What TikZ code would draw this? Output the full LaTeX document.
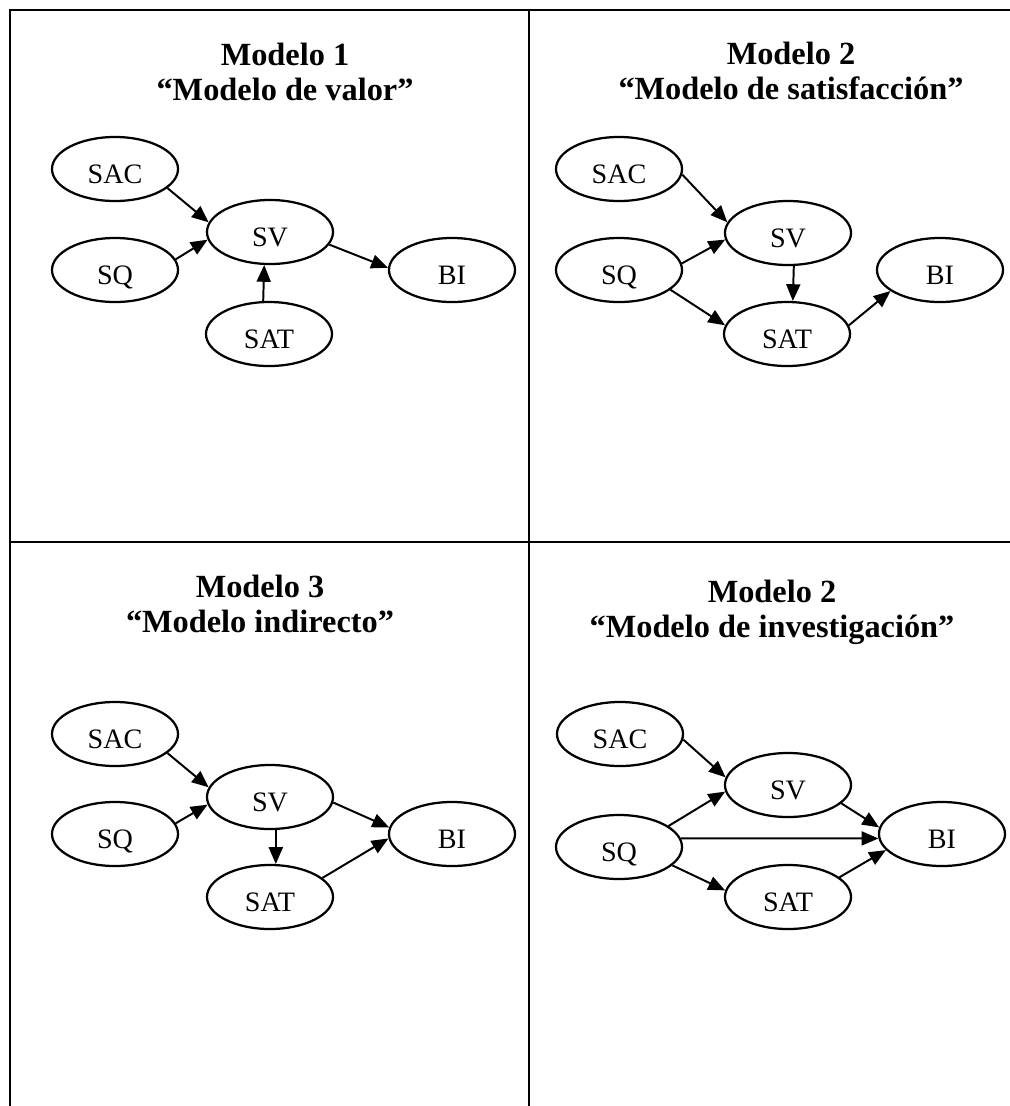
\documentclass[tikz,border=0pt]{standalone}
\usepackage{fontspec}
\setmainfont{Liberation Serif}
\usepackage{tikz}
\usetikzlibrary{arrows.meta,shapes.geometric}
\tikzset{
  var/.style={draw, ellipse, line width=1.6pt, minimum width=3.15cm, minimum height=1.6cm, inner sep=0pt, font=\fontsize{20}{24}\selectfont, text height=21.8pt, text depth=1.5pt},
  head/.style={anchor=base, inner sep=0pt, font=\bfseries\fontsize{23}{25}\selectfont},
  arrow/.style={-{Triangle[length=4.2mm, width=3.5mm]}, line width=1.4pt},
  frame/.style={line width=1.8pt}
}

\begin{document}
\begin{tikzpicture}[x=0.025cm,y=-0.025cm]
  \useasboundingbox (0,0) rectangle (1010,1106);
  \draw[frame] (10,1106) -- (10,10) -- (1010,10);
  \draw[frame] (529,10) -- (529,1106);
  \draw[frame] (10,542) -- (1010,542);

  \node[head] (ttl1) at (285,65) {Modelo 1};
  \node[head] (sub1) at (285,100) {“Modelo de valor”};
  \node[var] (sac1) at (115,169) {SAC};
  \node[var] (sq1) at (115,270) {SQ};
  \node[var] (sv1) at (270,232) {SV};
  \node[var] (sat1) at (269,334) {SAT};
  \node[var] (bi1) at (452,270) {BI};
  \draw[arrow] (sac1.340) -- (sv1.171);
  \draw[arrow] (sq1.10) -- (sv1.187);
  \draw[arrow] (sat1.100) -- (sv1.260);
  \draw[arrow] (sv1.348) -- (bi1.178);

  \node[head] (ttl2) at (791,64) {Modelo 2};
  \node[head] (sub2) at (791,99) {“Modelo de satisfacción”};
  \node[var] (sac2) at (619,169) {SAC};
  \node[var] (sq2) at (619,270) {SQ};
  \node[var] (sv2) at (788,233) {SV};
  \node[var] (sat2) at (787,334) {SAT};
  \node[var] (bi2) at (940,270) {BI};
  \draw[arrow] (sac2.355) -- (sv2.170);
  \draw[arrow] (sq2.6) -- (sv2.186);
  \draw[arrow] (sq2.339) -- (sat2.172);
  \draw[arrow] (sv2.280) -- (sat2.80);
  \draw[arrow] (sat2.8) -- (bi2.203);

  \node[head] (ttl3) at (260,597) {Modelo 3};
  \node[head] (sub3) at (260,632) {“Modelo indirecto”};
  \node[var] (sac3) at (115,734) {SAC};
  \node[var] (sq3) at (115,834) {SQ};
  \node[var] (sv3) at (270,797) {SV};
  \node[var] (sat3) at (270,897) {SAT};
  \node[var] (bi3) at (452,834) {BI};
  \draw[arrow] (sac3.340) -- (sv3.171);
  \draw[arrow] (sq3.10) -- (sv3.187);
  \draw[arrow] (sv3.355) -- (bi3.174);
  \draw[arrow] (sv3.280) -- (sat3.80);
  \draw[arrow] (sat3.20) -- (bi3.184);

  \node[head] (ttl4) at (772,602) {Modelo 2};
  \node[head] (sub4) at (772,637) {“Modelo de investigación”};
  \node[var] (sac4) at (620,734) {SAC};
  \node[var] (sq4) at (619,847) {SQ};
  \node[var] (sv4) at (788,785) {SV};
  \node[var] (sat4) at (788,897) {SAT};
  \node[var] (bi4) at (942,834) {BI};
  \draw[arrow] (sac4.355) -- (sv4.173);
  \draw[arrow] (sq4.23) -- (sv4.186);
  \draw[arrow] (sq4.8) -- (bi4.184);
  \draw[arrow] (sv4.341) -- (bi4.174);
  \draw[arrow] (sq4.341) -- (sat4.174);
  \draw[arrow] (sat4.21) -- (bi4.196);
\end{tikzpicture}
\end{document}
